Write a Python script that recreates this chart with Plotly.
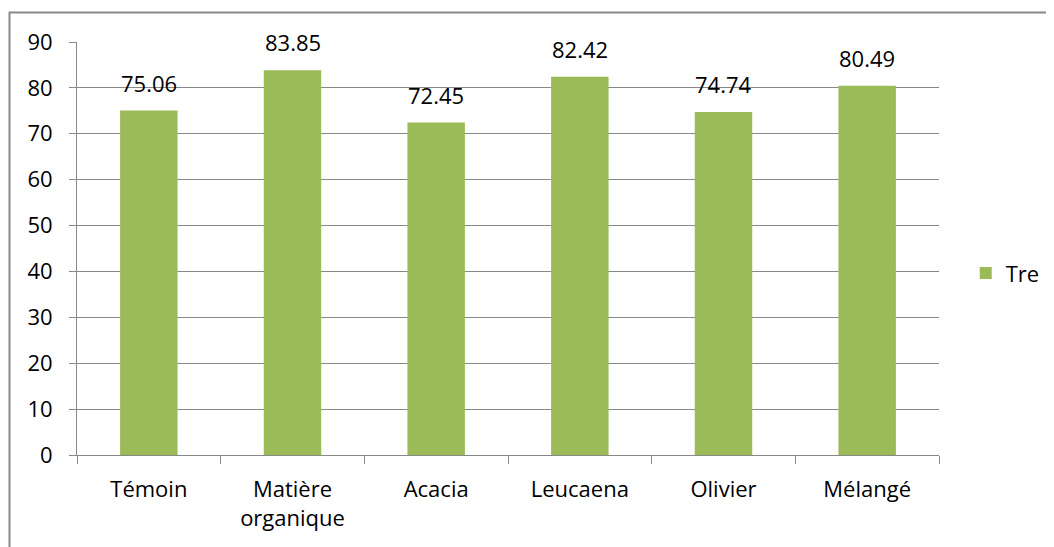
import plotly.graph_objects as go

categories = ["Témoin", "Matière<br>organique", "Acacia", "Leucaena", "Olivier", "Mélangé"]
values = [75.06, 83.85, 72.45, 82.42, 74.74, 80.49]
series_name = "Tre"

bar_color = "#9BBB59"
grid_color = "#888888"
font_family = "'Open Sans', sans-serif"

fig = go.Figure()

fig.add_trace(go.Bar(
    x=categories,
    y=values,
    name=series_name,
    marker=dict(color=bar_color, line=dict(width=0)),
))

# value labels above the bars
for c, v in zip(categories, values):
    fig.add_annotation(
        x=c, y=v, text=f"{v:.2f}", showarrow=False,
        yanchor="bottom", yshift=11,
        font=dict(size=22, color="black", family=font_family),
    )

# chart border (only top/left visible in the frame)
fig.add_shape(
    type="rect", xref="paper", yref="paper",
    x0=-0.0783, x1=2, y0=-1, y1=1.0714,
    line=dict(color=grid_color, width=2),
)

fig.update_layout(
    width=1046, height=539,
    margin=dict(l=69, r=115, t=34, b=92, autoexpand=False),
    plot_bgcolor="white", paper_bgcolor="white",
    font=dict(family=font_family, size=22, color="black"),
    bargap=0.6,
    showlegend=True,
    legend=dict(x=1.031, y=0.44, xanchor="left", yanchor="middle",
                font=dict(size=22), itemwidth=30),
)

fig.update_yaxes(
    range=[0, 90], dtick=10,
    showgrid=True, gridcolor=grid_color, gridwidth=1,
    showline=True, linecolor=grid_color, linewidth=1,
    ticks="outside", ticklen=7, tickcolor=grid_color,
    ticklabelstandoff=12,
    zeroline=False,
)
fig.update_xaxes(
    showline=True, linecolor=grid_color, linewidth=1,
    ticks="outside", ticklen=8, tickcolor=grid_color,
    tickson="boundaries",
    ticklabelstandoff=15,
    showgrid=False,
)

fig.write_html("out.html")
